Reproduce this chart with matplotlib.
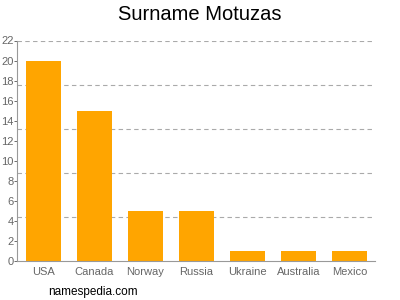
import matplotlib
matplotlib.use("Agg")
import matplotlib.pyplot as plt

plt.rcParams["font.family"] = ["Liberation Sans", "DejaVu Sans"]

countries = ["USA", "Canada", "Norway", "Russia", "Ukraine", "Australia", "Mexico"]
counts = [20, 15, 5, 5, 1, 1, 1]
y_ticks = [0, 2, 4, 6, 8, 10, 12, 14, 16, 18, 20, 22]
grid_levels = [4.4, 8.8, 13.2, 17.6, 22]

fig = plt.figure(figsize=(4, 3), dpi=100)
ax = fig.add_axes([0.0425, 0.13, 0.895, 0.735])

ax.bar(range(len(countries)), counts, width=0.69, color="#FFA500", zorder=2)

for g in grid_levels:
    ax.axhline(g, color="#AAAAAA", linestyle=(0, (4, 3)), linewidth=0.8, zorder=1)

ax.set_xlim(-0.52, 6.5)
ax.set_ylim(0, 22)
ax.set_yticks(y_ticks)
ax.set_xticks(range(len(countries)))
ax.set_xticklabels(countries)
ax.tick_params(axis="both", labelsize=8, colors="#555555", length=2, width=0.6)
ax.tick_params(axis="x", length=0, pad=4)
ax.tick_params(axis="y", pad=0.5)
for lab in ax.get_xticklabels() + ax.get_yticklabels():
    lab.set_color("#666666")

for side in ["top", "right"]:
    ax.spines[side].set_visible(False)
for side in ["left", "bottom"]:
    ax.spines[side].set_color("#999999")
    ax.spines[side].set_linewidth(0.8)

fig.text(0.5, 0.952, "Surname Motuzas", ha="center", va="center", fontsize=14.5, color="#000000")
fig.text(0.12, 0.027, "namespedia.com", ha="left", va="center", fontsize=8.5, color="#000000")

fig.savefig("out.png", dpi=100)
